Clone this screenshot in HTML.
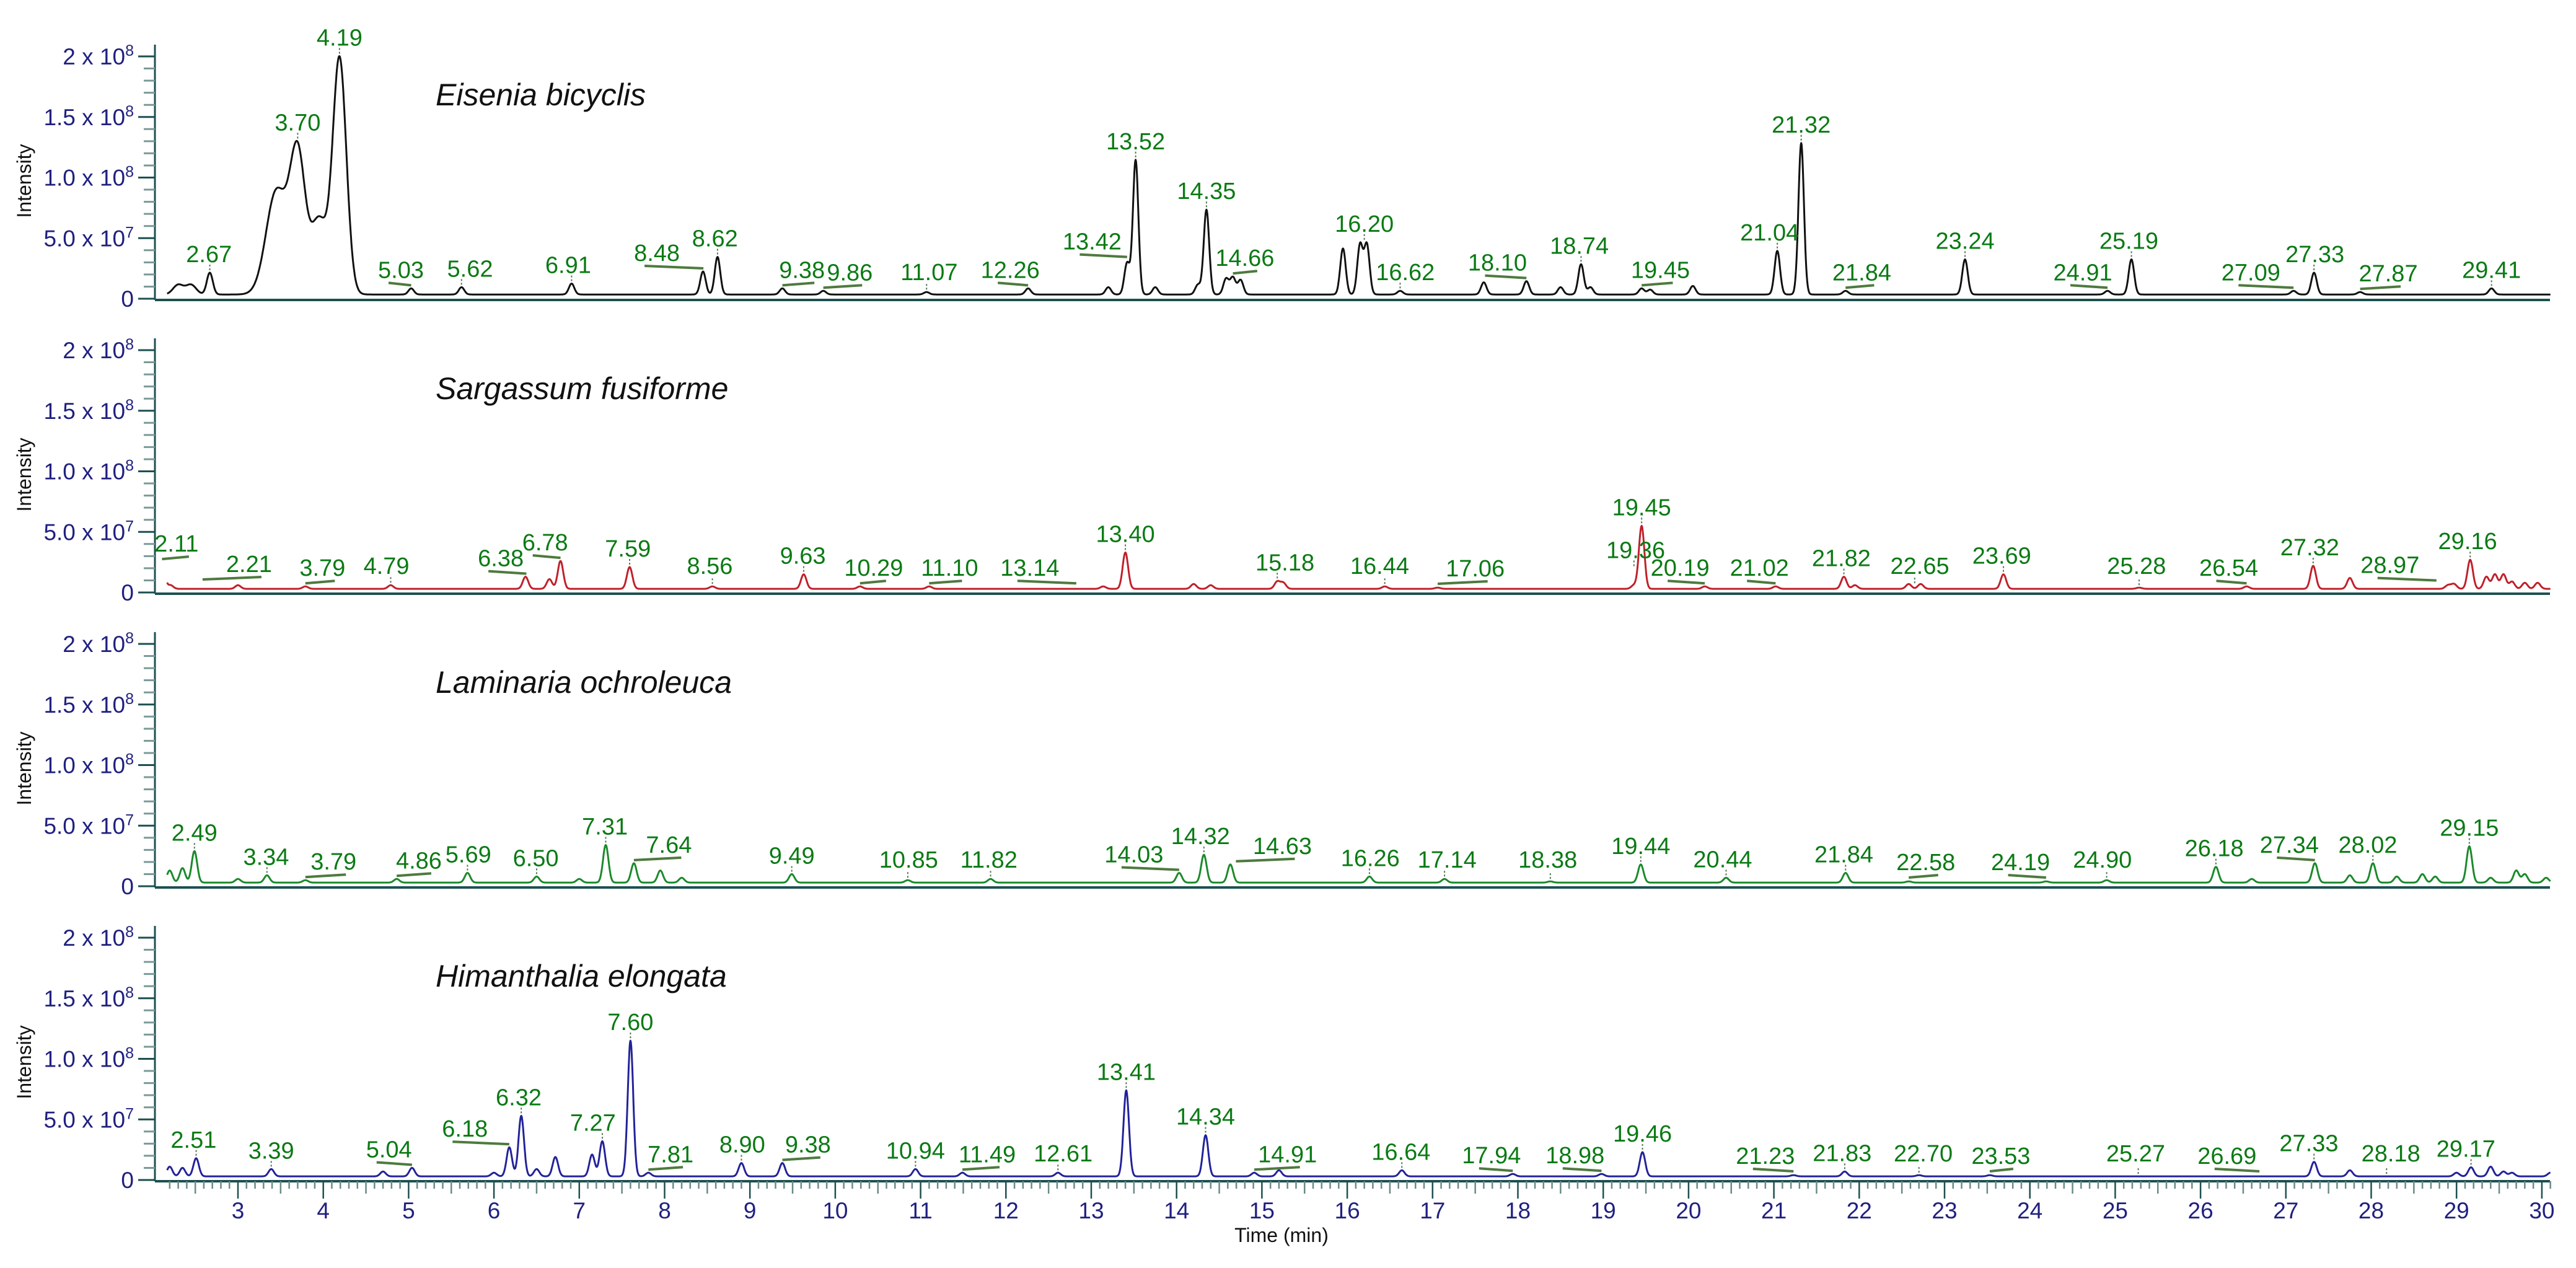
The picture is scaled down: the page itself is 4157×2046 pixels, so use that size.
<!DOCTYPE html>
<html><head><meta charset="utf-8">
<style>
html,body{margin:0;padding:0;background:#fff;}
svg{display:block;}
text{font-family:"Liberation Sans",Arial,sans-serif;}
</style></head>
<body>
<svg id="chart" width="4157" height="2046" viewBox="0 0 4157 2046" xmlns="http://www.w3.org/2000/svg"></svg>
<script>
// ---- data ----
const seriesNames = ["Eisenia bicyclis","Sargassum fusiforme","Laminaria ochroleuca","Himanthalia elongata"];
const seriesColors = ["#111111","#c0202a","#1a8a2a","#22229a"];
// peak retention times (min) and heights (units of 1e7)
const eiseniaTimes = [2.3,2.45,2.67,3.45,3.70,3.95,4.19,5.03,5.62,6.91,8.45,8.62,9.38,9.86,11.07,12.26,13.2,13.42,13.52,13.75,14.25,14.35,14.58,14.66,14.75,15.95,16.15,16.23,16.62,17.6,18.10,18.5,18.74,18.85,19.45,19.55,20.05,21.04,21.32,21.84,23.24,24.91,25.19,27.09,27.33,27.87,29.41];
const eiseniaHeights = [0.8,0.8,1.8,8.5,11.5,6.0,19.5,0.5,0.6,0.9,1.9,3.1,0.5,0.3,0.2,0.5,0.6,2.6,11.1,0.6,0.8,7.0,1.3,1.4,1.2,3.8,4.1,4.1,0.3,1.0,1.1,0.6,2.5,0.6,0.5,0.4,0.7,3.6,12.5,0.3,2.9,0.3,2.9,0.3,1.8,0.2,0.5];
const eiseniaWidths = [0.06,0.06,0.035,0.12,0.09,0.09,0.08];
const sargassumTimes = [2.11,2.21,3.0,3.79,4.79,6.37,6.65,6.78,7.59,8.56,9.63,10.29,11.10,13.14,13.40,14.2,14.4,15.18,15.25,16.44,17.06,19.36,19.45,20.19,21.02,21.82,21.95,22.58,22.72,23.69,25.28,26.54,27.32,27.75,28.90,28.97,29.16,29.35,29.45,29.55,29.65,29.8,29.95];
const sargassumHeights = [2.2,0.3,0.3,0.2,0.3,1.0,0.8,2.3,1.8,0.2,1.2,0.2,0.2,0.2,3.0,0.4,0.3,0.6,0.5,0.2,0.1,0.3,5.2,0.2,0.2,1.0,0.3,0.4,0.4,1.2,0.1,0.2,1.9,0.9,0.3,0.4,2.4,1.0,1.2,1.2,0.6,0.5,0.5];
const laminariaTimes = [2.2,2.35,2.49,3.0,3.34,3.79,4.86,5.69,6.50,7.0,7.31,7.64,7.95,8.2,9.49,10.85,11.82,14.03,14.32,14.63,16.26,17.14,18.38,19.44,20.44,21.84,22.58,24.19,24.90,26.18,26.6,27.34,27.75,28.02,28.3,28.6,28.75,29.15,29.4,29.7,29.8,30.05];
const laminariaHeights = [1.0,1.2,2.6,0.3,0.6,0.2,0.3,0.8,0.5,0.3,3.1,1.6,1.0,0.4,0.7,0.2,0.3,0.8,2.3,1.5,0.5,0.3,0.1,1.5,0.4,0.8,0.1,0.1,0.2,1.3,0.3,1.6,0.6,1.6,0.5,0.7,0.5,3.0,0.4,1.0,0.7,0.4];
const himanthaliaTimes = [2.2,2.35,2.51,3.39,4.7,5.04,6.0,6.18,6.32,6.5,6.72,7.15,7.27,7.60,7.81,8.9,9.38,10.94,11.49,12.61,13.41,14.34,14.91,15.2,16.64,17.94,18.98,19.46,21.23,21.83,22.70,23.53,27.33,27.75,29.0,29.17,29.4,29.55,29.65,30.1];
const himanthaliaHeights = [0.8,0.7,1.5,0.6,0.4,0.7,0.3,2.4,5.0,0.6,1.6,1.8,2.9,11.2,0.3,1.1,1.1,0.6,0.3,0.3,7.1,3.4,0.3,0.5,0.5,0.2,0.2,2.0,0.1,0.4,0.1,0.1,1.2,0.5,0.3,0.75,0.8,0.4,0.3,0.3];
// labelled peaks (text) and where each label text is centred (min)
const eiseniaLabels = ["2.67","3.70","4.19","5.03","5.62","6.91","8.48","8.62","9.38","9.86","11.07","12.26","13.42","13.52","14.35","14.66","16.20","16.62","18.10","18.74","19.45","21.04","21.32","21.84","23.24","24.91","25.19","27.09","27.33","27.87","29.41"];
const eiseniaLabelAt = [2.66,3.70,4.19,4.91,5.72,6.87,7.91,8.59,9.61,10.17,11.1,12.05,13.01,13.52,14.35,14.8,16.20,16.68,17.76,18.72,19.67,20.95,21.32,22.03,23.24,24.62,25.16,26.59,27.34,28.2,29.41];
const sargassumLabels = ["2.11","2.21","3.79","4.79","6.38","6.78","7.59","8.56","9.63","10.29","11.10","13.14","13.40","15.18","16.44","17.06","19.36","19.45","20.19","21.02","21.82","22.65","23.69","25.28","26.54","27.32","28.97","29.16"];
const sargassumLabelAt = [2.28,3.13,3.99,4.74,6.08,6.6,7.57,8.53,9.62,10.45,11.34,12.28,13.40,15.27,16.38,17.5,19.38,19.45,19.9,20.83,21.79,22.71,23.67,25.25,26.33,27.28,28.22,29.13];
const laminariaLabels = ["2.49","3.34","3.79","4.86","5.69","6.50","7.31","7.64","9.49","10.85","11.82","14.03","14.32","14.63","16.26","17.14","18.38","19.44","20.44","21.84","22.58","24.19","24.90","26.18","27.34","28.02","29.15"];
const laminariaLabelAt = [2.49,3.33,4.12,5.12,5.7,6.49,7.3,8.05,9.49,10.86,11.8,13.5,14.28,15.24,16.27,17.17,18.35,19.44,20.4,21.82,22.78,23.89,24.85,26.16,27.04,27.96,29.15];
const himanthaliaLabels = ["2.51","3.39","5.04","6.18","6.32","7.27","7.60","7.81","8.90","9.38","10.94","11.49","12.61","13.41","14.34","14.91","16.64","17.94","18.98","19.46","21.23","21.83","22.70","23.53","25.27","26.69","27.33","28.18","29.17"];
const himanthaliaLabelAt = [2.48,3.39,4.77,5.66,6.29,7.16,7.6,8.07,8.91,9.68,10.94,11.78,12.67,13.41,14.34,15.3,16.63,17.69,18.67,19.46,20.9,21.8,22.75,23.66,25.24,26.31,27.27,28.23,29.11];
const yTickValues = [0,5,10,15,20];
const yTickMant = ["0","5.0","1.0","1.5","2"];
const yTickExp = ["","7","8","8","8"];
const xTickLabels = [3,4,5,6,7,8,9,10,11,12,13,14,15,16,17,18,19,20,21,22,23,24,25,26,27,28,29,30];

// ---- layout ----
const NS="http://www.w3.org/2000/svg";
const svg=document.getElementById('chart');
const X0=250, X1=4115, T0=2.17, T1=30.1;
const PX_PER_MIN=137.7;
const xs=t=>384+(t-3)*PX_PER_MIN;
const zeros=[482,956,1430,1904];
const PER=19.55; // px per 1e7
const ys=(h,p)=>zeros[p]-h*PER;
const AXIS="#1d5050", LAB="#202080", GREEN="#0a7a14";
function el(tag,attrs,parent){const e=document.createElementNS(NS,tag);for(const k in attrs)e.setAttribute(k,attrs[k]);(parent||svg).appendChild(e);return e;}

const allTimes=[eiseniaTimes,sargassumTimes,laminariaTimes,himanthaliaTimes];
const allHeights=[eiseniaHeights,sargassumHeights,laminariaHeights,himanthaliaHeights];
const allLabels=[eiseniaLabels,sargassumLabels,laminariaLabels,himanthaliaLabels];
const allLabelAt=[eiseniaLabelAt,sargassumLabelAt,laminariaLabelAt,himanthaliaLabelAt];
const base=[0.35,0.3,0.3,0.3];

function signal(p,t){
  let s=base[p];
  const T=allTimes[p],H=allHeights[p];
  for(let i=0;i<T.length;i++){
    let w=0.032;
    if(p===0&&i<eiseniaWidths.length) w=eiseniaWidths[i];
    const d=(t-T[i])/w;
    if(Math.abs(d)<6) s+=H[i]*Math.exp(-0.5*d*d);
  }
  return s;
}

for(let p=0;p<4;p++){
  const g=el('g',{});
  
  
  const z=zeros[p];
  const ya=el('line',{x1:X0,y1:z-410,x2:X0,y2:z+2,stroke:AXIS,'stroke-width':3},g);
  
  
  const xa=el('line',{x1:X0,y1:z+2,x2:X1,y2:z+2,stroke:AXIS,'stroke-width':4},g);
  
  
  for(let k=0;k<=20;k++){
    const y=ys(k,p);
    const major=(k%5===0);
    el('line',{x1:major?223:232,y1:y,x2:X0,y2:y,stroke:major?AXIS:"#7a9a98",'stroke-width':3},g);
  }
  yTickValues.forEach((v,i)=>{
    const t=el('text',{x:216,y:ys(v,p)+13,'text-anchor':'end','font-size':37,fill:LAB},g);
    
    
    t.textContent=yTickMant[i]+(yTickExp[i]?" x 10":"");
    if(yTickExp[i]){const s=el('tspan',{dy:-14,'font-size':25},t);s.textContent=yTickExp[i];}
  });
  const yl=el('text',{x:0,y:0,'font-size':32,fill:'#111','text-anchor':'middle',transform:`translate(50,${z-190}) rotate(-90)`},g);
  
  
  yl.textContent='Intensity';
  const ti=el('text',{x:703,y:z-312,'font-size':50,'font-style':'italic',fill:'#111'},g);
  
  
  ti.textContent=seriesNames[p];
  let d='';
  for(let t=T0;t<=T1+1e-9;t+=0.005){
    d+=(d?'L':'M')+xs(t).toFixed(1)+' '+ys(signal(p,t),p).toFixed(1);
  }
  const tr=el('path',{d:d,fill:'none',stroke:seriesColors[p],'stroke-width':3,'stroke-linejoin':'round'},g);
  
  
  allLabels[p].forEach((lbl,i)=>{
    const t=parseFloat(lbl);
    const at=allLabelAt[p][i];
    let m=0;for(let u=t-0.04;u<=t+0.04;u+=0.005)m=Math.max(m,signal(p,u));
    const py=ys(m,p);
    let ty;
    if(Math.abs(at-t)>0.12){
      const ly=Math.min(py-7,z-16);
      const dir=xs(t)>xs(at)?1:-1;
      const len=Math.min(Math.abs(xs(t)-xs(at)),75);
      const xa1=xs(at)-dir*20, xa2=xs(at)+dir*len;
      el('line',{x1:xa1,y1:ly-2,x2:xa2,y2:ly+2,stroke:'#4e7a3e','stroke-width':4},g);
      ty=ly-10;
    } else {
      el('line',{x1:xs(t),y1:py-4,x2:xs(t),y2:py-13,stroke:'#557755','stroke-width':2,'stroke-dasharray':'3,3'},g);
      ty=Math.min(py-17,z-30);
    }
    const tx=el('text',{x:xs(at),y:ty,'text-anchor':'middle','font-size':38,fill:GREEN},g);
    
    
    tx.textContent=lbl;
  });
}
const zb=zeros[3]+2;
for(let k=Math.ceil(T0*10);k<=Math.floor(T1*10);k++){
  const t=k/10;
  const len=(k%10===0)?28:(k%5===0?20:12);
  el('line',{x1:xs(t),y1:zb,x2:xs(t),y2:zb+len,stroke:(k%10===0)?AXIS:"#6a8a88",'stroke-width':2.5});
}
xTickLabels.forEach(v=>{
  const t=el('text',{x:xs(v),y:1966,'text-anchor':'middle','font-size':37,fill:LAB});
  
  
  t.textContent=v;
});
const xt=el('text',{x:2068,y:2004,'text-anchor':'middle','font-size':32,fill:'#111'});


xt.textContent='Time (min)';
</script>
</body></html>
